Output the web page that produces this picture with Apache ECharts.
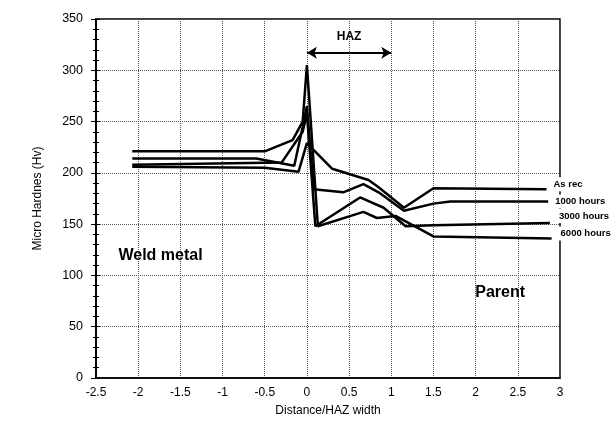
<!DOCTYPE html>
<html><head><meta charset="utf-8">
<script src="https://cdn.jsdelivr.net/npm/echarts@6/dist/echarts.min.js"></script>
<style>html,body{margin:0;padding:0;background:#fff}#c{width:611px;height:424px}</style>
</head><body><div id="c"></div>
<script>
// ---- data ----
const seriesNames = ['As rec', '1000 hours', '3000 hours', '6000 hours'];
const asRecX   = [-2.07, -0.5, -0.1, 0, 0.3, 0.73, 0.85, 1.15, 1.5, 2.84];
const asRecY   = [206, 205, 201, 229, 204, 193, 186, 166, 185, 184];
const h1000X   = [-2.07, -0.6, -0.15, -0.05, 0, 0.08, 0.43, 0.67, 0.85, 1.15, 1.5, 1.7, 2.86];
const h1000Y   = [214, 214, 207, 245, 265, 184, 181, 189, 181, 163, 170, 172, 172];
const h3000X   = [-2.07, -0.3, -0.05, 0, 0.1, 0.63, 0.91, 1.17, 1.5, 2.88];
const h3000Y   = [208, 210, 240, 258, 148, 176, 166, 148, 149, 151];
const h6000X   = [-2.07, -0.5, -0.17, -0.05, 0, 0.13, 0.67, 0.83, 1.05, 1.5, 2.9];
const h6000Y   = [221, 221, 232, 250, 305, 148, 162, 156, 158, 138, 136];
const hazArrowX = [0, 1];
const hazArrowY = 317;
const weldMetalPos = [-2.24, 119];
const parentPos = [1.99, 83];
const xMin = -2.5, xMax = 3, xStep = 0.5;
const yMin = 0, yMax = 350, yStep = 50;

const pairs = (xs, ys) => xs.map((x, i) => [x, ys[i]]);
const allX = [asRecX, h1000X, h3000X, h6000X];
const allY = [asRecY, h1000Y, h3000Y, h6000Y];
const labelOffsets = [[0, -5], [0, 0], [0, -7], [0, -5]];
const labelDist = [5, 5, 7, 7];

const base = "'Liberation Sans', Arial, sans-serif";

const series = seriesNames.map((name, i) => ({
  name, type: 'line', data: pairs(allX[i], allY[i]),
  showSymbol: false, symbol: 'none',
  lineStyle: { color: '#000', width: 2.5 },
  itemStyle: { color: '#000' },
  z: 3,
  endLabel: {
    show: true, formatter: name, color: '#000', fontWeight: 'bold', fontSize: 9.5,
    fontFamily: base, backgroundColor: '#fff', padding: [2, 2],
    distance: labelDist[i], offset: labelOffsets[i]
  }
}));

series[0].markLine = {
  silent: true, symbol: ['arrow', 'arrow'], symbolSize: [9, 10],
  lineStyle: { color: '#000', type: 'solid', width: 2 },
  label: { show: true, formatter: 'HAZ', position: 'middle', distance: 10,
           color: '#000', fontWeight: 'bold', fontSize: 12, fontFamily: base },
  data: [[{ coord: [hazArrowX[0], hazArrowY] }, { coord: [hazArrowX[1], hazArrowY] }]]
};
series[1].markPoint = {
  silent: true, symbol: 'circle', symbolSize: 1,
  itemStyle: { color: 'rgba(0,0,0,0)' },
  label: { show: true, position: 'right', distance: 0, formatter: '{b}',
           color: '#000', fontWeight: 'bold', fontSize: 16, fontFamily: base },
  data: [{ name: 'Weld metal', coord: weldMetalPos }, { name: 'Parent', coord: parentPos }]
};

const chart = echarts.init(document.getElementById('c'), null, { renderer: 'canvas' });
chart.setOption({
  animation: false,
  backgroundColor: '#fff',
  grid: { left: 96, right: 51, top: 19, bottom: 46, show: true, borderColor: '#000', borderWidth: 1.5, backgroundColor: 'transparent' },
  xAxis: {
    type: 'value', min: xMin, max: xMax, interval: xStep,
    name: 'Distance/HAZ width', nameLocation: 'middle', nameGap: 27,
    nameTextStyle: { color: '#000', fontSize: 12, fontFamily: base },
    axisLine: { show: true, onZero: false, lineStyle: { color: '#000', width: 1.5 } },
    axisTick: { show: false },
    axisLabel: { color: '#000', fontSize: 12, fontFamily: base, margin: 9 },
    splitLine: { show: true, lineStyle: { color: '#555', type: 'dotted', width: 1 } }
  },
  yAxis: [{
    type: 'value', min: yMin, max: yMax, interval: yStep, position: 'left',
    name: 'Micro Hardnes (Hv)', nameLocation: 'middle', nameGap: 52, nameRotate: 90,
    nameTextStyle: { color: '#000', fontSize: 12, fontFamily: base },
    axisLine: { show: true, onZero: false, lineStyle: { color: '#000', width: 1.5 } },
    axisTick: { show: true, inside: false, length: 5, lineStyle: { color: '#000' } },
    minorTick: { show: true, splitNumber: 5, length: 3, lineStyle: { color: '#000' } },
    axisLabel: { color: '#000', fontSize: 12.5, fontFamily: base, margin: 13 },
    splitLine: { show: true, lineStyle: { color: '#555', type: 'dotted', width: 1 } }
  }, {
    type: 'value', min: yMin, max: yMax, interval: yStep, position: 'left', offset: 0,
    axisLine: { show: true, onZero: false, lineStyle: { color: '#000', width: 1.5 } },
    axisTick: { show: true, inside: true, length: 4, lineStyle: { color: '#000' } },
    minorTick: { show: true, splitNumber: 5, length: 3, lineStyle: { color: '#000' } },
    axisLabel: { show: false },
    splitLine: { show: false }
  }],
  series
});
</script>
</body></html>
